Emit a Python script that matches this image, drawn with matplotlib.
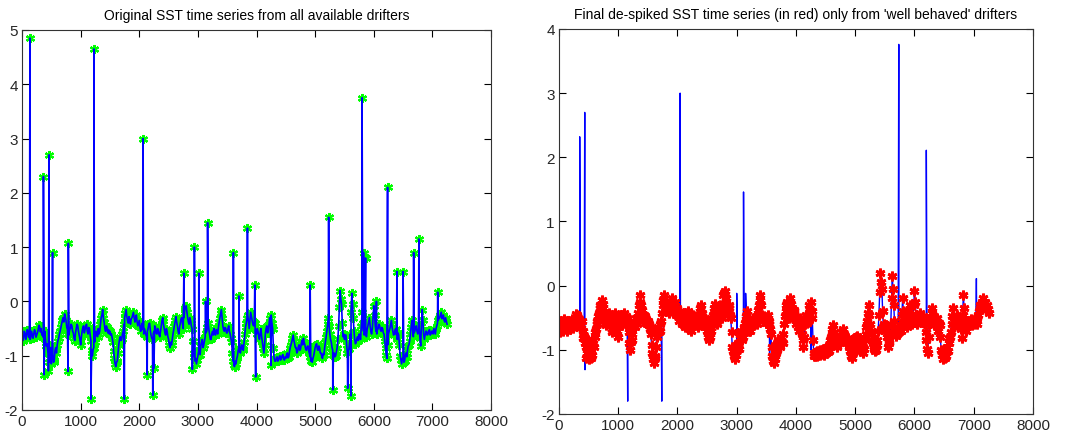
import matplotlib
matplotlib.use("Agg")
import matplotlib.pyplot as plt
import numpy as np

plt.rcParams['font.family'] = ['Liberation Sans', 'DejaVu Sans']
plt.rcParams['axes.unicode_minus'] = False

# de-spiked SST anomaly, read every 25 time steps from the chart
base_sst = [
    -0.62, -0.68, -0.58, -0.64, -0.55, -0.60, -0.66, -0.62, -0.60, -0.56,
    -0.62, -0.52, -0.46, -0.50, -0.58, -0.62, -0.70, -0.78, -0.95, -1.05,
    -1.15, -0.98, -1.08, -0.85, -0.80, -0.68, -0.55, -0.42, -0.30, -0.23,
    -0.35, -0.52, -0.62, -0.50, -0.45, -0.58, -0.72, -0.50, -0.45, -0.62,
    -0.80, -0.55, -0.45, -0.52, -0.42, -0.60, -0.50, -0.72, -1.00, -0.85,
    -0.65, -0.58, -0.50, -0.55, -0.30, -0.15, -0.38, -0.55, -0.48, -0.52,
    -0.55, -0.60, -0.75, -1.05, -1.20, -1.10, -0.80, -0.65, -0.70, -0.55,
    -0.30, -0.15, -0.35, -0.28, -0.42, -0.30, -0.20, -0.38, -0.25, -0.45,
    -0.35, -0.55, -0.40, -0.60, -0.55, -0.65, -0.50, -0.40, -0.62, -0.70,
    -0.55, -0.48, -0.60, -0.52, -0.65, -0.45, -0.30, -0.50, -0.62, -0.55,
    -0.70, -0.85, -0.80, -0.60, -0.45, -0.28, -0.45, -0.60, -0.40, -0.30,
    -0.50, -0.15, -0.08, -0.30, -0.42, -0.35, -0.50, -0.95, -1.10, -1.15,
    -1.00, -0.90, -0.82, -0.70, -0.80, -0.65, -0.55, -0.40, -0.62, -0.70,
    -0.55, -0.50, -0.62, -0.55, -0.48, -0.30, -0.15, -0.45, -0.55, -0.50,
    -0.58, -0.45, -0.60, -0.75, -1.10, -1.20, -1.15, -1.00, -0.85, -0.95,
    -0.80, -0.90, -0.60, -0.40, -0.25, -0.50, -0.20, -0.35, -0.45, -0.40,
    -0.60, -0.55, -0.70, -0.50, -0.75, -0.95, -0.60, -0.45, -0.55, -0.30,
    -0.25, -0.50, -1.05, -1.10, -1.02, -1.08, -1.00, -1.05, -0.98, -1.08,
    -1.05, -0.95, -1.02, -0.85, -0.75, -0.62, -0.78, -0.85, -0.92, -0.80,
    -0.88, -0.72, -0.68, -0.80, -0.90, -0.82, -0.95, -1.10, -1.12, -1.00,
    -0.85, -0.78, -0.90, -0.85, -0.95, -1.05, -0.98, -0.75, -0.55, -0.30,
    -0.60, -0.75, -0.90, -0.95, -1.00, -0.85, -0.45, 0.20, -0.05, -0.65,
    -0.70, -0.62, -0.95, -0.88, -0.60, 0.15, -0.30, -0.70, -0.75, -0.65,
    -0.60, -0.70, -0.20, -0.55, -0.50, -0.65, -0.45, -0.30, -0.55, -0.50,
    -0.08, -0.45, -0.60, -0.50, -0.45, -0.55, -0.50, -0.60, -0.85, -1.05,
    -0.60, -0.50, -0.35, -0.55, -0.60, -0.50, -0.70, -0.62, -1.00, -1.15,
    -1.05, -1.10, -0.95, -0.90, -0.80, -0.60, -0.35, -0.65, -0.55, -0.45,
    -0.60, -0.50, -0.82, -0.15, -0.60, -0.62, -0.55, -0.60, -0.52, -0.60,
    -0.55, -0.50, -0.60, -0.45, -0.35, -0.30, -0.20, -0.28, -0.35, -0.30,
    -0.42,
]

# the in-between samples (other edge of the noisy band), half a step later
mid_sst = [
    -0.72, -0.55, -0.70, -0.52, -0.66, -0.70, -0.55, -0.68, -0.52, -0.66,
    -0.58, -0.44, -0.56, -0.62, -0.66, -0.55, -0.82, -0.90, -1.12, -0.85,
    -0.92, -1.12, -0.90, -0.95, -0.72, -0.60, -0.48, -0.35, -0.38, -0.28,
    -0.48, -0.60, -0.52, -0.42, -0.55, -0.68, -0.58, -0.42, -0.55, -0.70,
    -0.65, -0.48, -0.58, -0.45, -0.55, -0.48, -0.62, -0.90, -0.88, -0.75,
    -0.55, -0.65, -0.60, -0.42, -0.25, -0.30, -0.50, -0.45, -0.58, -0.60,
    -0.62, -0.68, -0.92, -1.15, -1.12, -0.95, -0.70, -0.72, -0.60, -0.42,
    -0.22, -0.28, -0.40, -0.36, -0.32, -0.25, -0.30, -0.30, -0.38, -0.40,
    -0.48, -0.45, -0.52, -0.50, -0.62, -0.55, -0.42, -0.52, -0.68, -0.60,
    -0.45, -0.58, -0.50, -0.62, -0.55, -0.35, -0.42, -0.58, -0.50, -0.65,
    -0.80, -0.75, -0.70, -0.52, -0.35, -0.38, -0.55, -0.48, -0.32, -0.42,
    -0.30, -0.12, -0.20, -0.38, -0.30, -0.45, -0.72, -1.02, -1.05, -1.08,
    -0.92, -0.98, -0.75, -0.85, -0.72, -0.58, -0.48, -0.52, -0.70, -0.60,
    -0.62, -0.58, -0.52, -0.60, -0.38, -0.22, -0.30, -0.52, -0.48, -0.58,
    -0.50, -0.55, -0.68, -0.95, -1.18, -1.10, -1.05, -0.90, -0.92, -0.85,
    -0.88, -0.75, -0.48, -0.30, -0.38, -0.35, -0.28, -0.42, -0.38, -0.52,
    -0.50, -0.65, -0.58, -0.65, -0.85, -0.80, -0.50, -0.58, -0.42, -0.38,
    -0.40, -0.85, -1.10, -1.04, -1.10, -1.02, -1.08, -1.00, -1.06, -1.02,
    -0.98, -1.04, -0.92, -0.80, -0.68, -0.72, -0.85, -0.95, -0.84, -0.90,
    -0.78, -0.80, -0.75, -0.88, -0.84, -0.90, -1.02, -1.05, -1.05, -0.92,
    -0.80, -0.88, -0.82, -0.95, -1.02, -0.96, -0.85, -0.65, -0.42, -0.45,
    -0.70, -0.85, -0.98, -1.02, -0.92, -0.70, -0.10, 0.05, -0.40, -0.60,
    -0.62, -0.80, -0.90, -0.75, -0.20, -0.05, -0.55, -0.78, -0.68, -0.72,
    -0.66, -0.45, -0.40, -0.62, -0.58, -0.52, -0.38, -0.45, -0.60, -0.30,
    -0.25, -0.55, -0.52, -0.42, -0.52, -0.48, -0.58, -0.72, -0.98, -0.80,
    -0.55, -0.42, -0.48, -0.62, -0.52, -0.62, -0.58, -0.80, -1.08, -1.05,
    -1.12, -1.00, -1.02, -0.82, -0.72, -0.48, -0.50, -0.58, -0.48, -0.55,
    -0.52, -0.68, -0.45, -0.35, -0.70, -0.55, -0.62, -0.55, -0.62, -0.55,
    -0.60, -0.55, -0.50, -0.40, -0.30, -0.25, -0.32, -0.25, -0.38, -0.36,
]

base_t = np.arange(len(base_sst)) * 25
mid_t = np.arange(len(mid_sst)) * 25 + 12.5

# spikes in the original record (all drifters)
spike_t_all = [135, 365, 375, 450, 460, 520, 785, 790, 1175, 1225, 1745, 2065,
               2135, 2230, 2250, 2760, 2905, 2940, 3015, 3130, 3165, 3605,
               3700, 3845, 3970, 3985, 4245, 4915, 5230, 5300, 5555, 5610,
               5800, 5825, 5860, 6045, 6235, 6395, 6500, 6680, 6770, 7090]
spike_v_all = [4.85, 2.30, -1.35, -1.28, 2.70, 0.90, -1.29, 1.07, -1.80, 4.65,
               -1.80, 3.00, -1.35, -1.73, -1.23, 0.52, -1.25, 1.00, 0.52, 0.00,
               1.45, 0.90, 0.10, 1.35, 0.30, -1.39, -1.18, 0.30, 1.55, -1.63,
               -1.60, -1.74, 3.75, 0.90, 0.80, 0.00, 2.10, 0.55, 0.55, 0.90,
               1.15, 0.17]

# spikes still in the well-behaved drifters record (blue line only)
spike_t_good = [350, 435, 440, 1160, 1735, 2045, 3000, 3115, 3150, 3555,
                4255, 5735, 6200, 7045]
spike_v_good = [2.32, 2.70, -1.31, -1.80, -1.80, 3.00, -0.12, 1.46, -0.12,
                -1.05, -1.00, 3.76, 2.11, 0.11]


def merge(t1, v1, t2, v2):
    t = np.concatenate([t1, t2])
    v = np.concatenate([v1, v2])
    order = np.argsort(t, kind='stable')
    return t[order], v[order]


clean_t, clean_v = merge(base_t, base_sst, mid_t, mid_sst)
t_all, v_all = merge(clean_t, clean_v, spike_t_all, spike_v_all)
t_good, v_good = merge(clean_t, clean_v, spike_t_good, spike_v_good)

star = (6, 2, 0)

fig = plt.figure(figsize=(10.7, 4.39), dpi=100)
ax1 = fig.add_axes([0.0206, 0.0638, 0.4383, 0.8656])
ax2 = fig.add_axes([0.5224, 0.0547, 0.4430, 0.8770])

ax1.plot(t_all, v_all, linestyle='none', marker=star, color='#00ff00',
         markersize=6.5, markeredgewidth=1.6)
ax1.plot(t_all, v_all, color='blue', linewidth=1.2)
ax1.set_xlim(0, 8000)
ax1.set_ylim(-2, 5)
ax1.set_title('Original SST time series from all available drifters',
              fontsize=10, pad=8)

ax2.plot(t_good, v_good, color='blue', linewidth=1.0)
ax2.plot(clean_t, clean_v, linestyle='none', marker=star, color='red',
         markersize=7, markeredgewidth=2.0)
ax2.set_xlim(0, 8000)
ax2.set_ylim(-2, 4)
ax2.set_title("Final de-spiked SST time series (in red) only from 'well behaved' drifters",
              fontsize=10, pad=8)

for ax in (ax1, ax2):
    ax.tick_params(direction='in', top=True, right=True, labelsize=11,
                   length=5, width=0.8, pad=3, labelcolor='#262626')
    for sp in ax.spines.values():
        sp.set_linewidth(0.8)
        sp.set_color('#333333')

fig.savefig('out.png', dpi=100)
